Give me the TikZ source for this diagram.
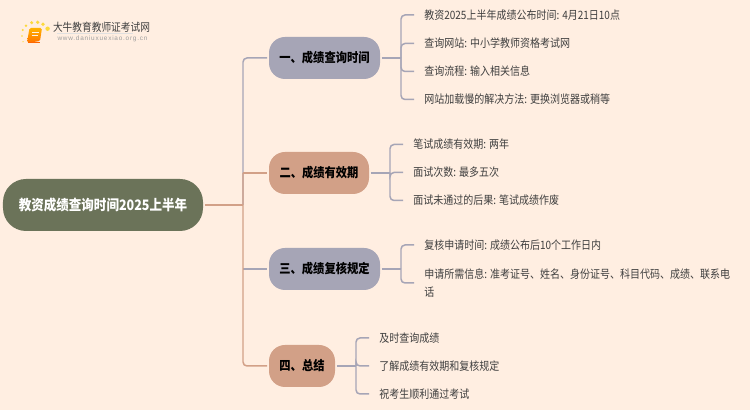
\documentclass[tikz,border=0pt]{standalone}
\usepackage{fontspec}
\setmainfont[FakeStretch=0.87]{Noto Sans CJK SC}
\newfontfamily\urlfont[LetterSpace=12]{Liberation Sans}
\definecolor{bgcol}{HTML}{FFEEE1}
\definecolor{rootcol}{HTML}{6B7359}
\definecolor{bluecol}{HTML}{A6A5B6}
\definecolor{salmoncol}{HTML}{D2A087}
\definecolor{leafcol}{HTML}{3F3F3F}

\tikzset{
  rootnode/.style={rectangle, fill=rootcol, rounded corners=0.46cm, minimum width=4cm, minimum height=1.04cm,
    inner sep=0pt, text=white, font=\fontsize{8.2pt}{9pt}\selectfont\bfseries},
  topic/.style={rectangle, rounded corners=0.32cm, minimum height=0.84cm, inner sep=0pt,
    text=black, font=\fontsize{7.37pt}{9pt}\selectfont\bfseries},
  bluetopic/.style={topic, fill=bluecol},
  salmontopic/.style={topic, fill=salmoncol},
  leaf/.style={rectangle, anchor=west, inner xsep=0.2cm, inner ysep=0pt, align=left, text=leafcol,
    font=\fontsize{6.54pt}{10.24pt}\selectfont},
  bluelink/.style={draw=bluecol, line width=0.85pt, rounded corners=0.08cm},
  salmonlink/.style={draw=salmoncol, line width=0.85pt, rounded corners=0.08cm}
}

\begin{document}
\begin{tikzpicture}
  \useasboundingbox[fill=bgcol] (0,0) rectangle (15,8.2);

  \node[rootnode] (root) at (2.06,4.1) {教资成绩查询时间2025上半年};

  \node[bluetopic, minimum width=2.22cm] (b1) at (6.49,7.04) {一、成绩查询时间};
  \node[salmontopic, minimum width=2cm] (b2) at (6.38,4.74) {二、成绩有效期};
  \node[bluetopic, minimum width=2.22cm] (b3) at (6.49,2.82) {三、成绩复核规定};
  \node[salmontopic, minimum width=1.32cm] (b4) at (6.04,0.88) {四、总结};

  \node[leaf] (l11) at (8.28,7.9) {教资2025上半年成绩公布时间: 4月21日10点};
  \node[leaf] (l12) at (8.28,7.33) {查询网站: 中小学教师资格考试网};
  \node[leaf] (l13) at (8.28,6.77) {查询流程: 输入相关信息};
  \node[leaf] (l14) at (8.28,6.21) {网站加载慢的解决方法: 更换浏览器或稍等};

  \node[leaf] (l21) at (8.06,5.31) {笔试成绩有效期: 两年};
  \node[leaf] (l22) at (8.06,4.75) {面试次数: 最多五次};
  \node[leaf] (l23) at (8.06,4.19) {面试未通过的后果: 笔试成绩作废};

  \node[leaf] (l31) at (8.28,3.3) {复核申请时间: 成绩公布后10个工作日内};
  \node[leaf] (l32) at (8.28,2.54) {申请所需信息: 准考证号、姓名、身份证号、科目代码、成绩、联系电\\话};

  \node[leaf] (l41) at (7.38,1.44) {及时查询成绩};
  \node[leaf] (l42) at (7.38,0.88) {了解成绩有效期和复核规定};
  \node[leaf] (l43) at (7.38,0.32) {祝考生顺利通过考试};

  % trunk
  \coordinate (trunk) at (4.86,4.1);
  \coordinate (j1) at (8.02,7.04);
  \coordinate (j2) at (7.8,4.74);
  \coordinate (j3) at (8.02,2.82);
  \coordinate (j4) at (7.12,0.88);

  \path[bluelink, shorten >=0.03cm] (trunk) |- (b1.west);
  \path[bluelink, shorten >=0.03cm] (trunk |- b3.west) -- (b3.west);
  \path[salmonlink, shorten >=0.03cm] (trunk |- b2.west) -- (b2.west);
  \path[salmonlink, shorten >=0.03cm] (trunk |- b2.west) -- (trunk) |- (b4.west);
  \path[salmonlink, shorten <=0.03cm] (root.east) -- (trunk);

  % leaves
  \foreach \j/\b/\list in {j1/b1/{l11,l12,l13,l14}, j2/b2/{l21,l22,l23}, j3/b3/{l31,l32}, j4/b4/{l41,l42,l43}} {
    \path[bluelink, shorten <=0.03cm] (\b.east) -- (\j);
    \foreach \l in \list
      \path[bluelink] (\j) |- (\l.west);
  }

  % logo
  \begin{scope}[x=0.02cm,y=-0.02cm,yshift=8.2cm]
    \foreach \px/\py/\rad in {47.6/28.7/2.2, 43/24.3/1.9, 37.7/22.3/1.8, 31.7/22.7/1.7, 26/25.7/1.4, 22.7/30/1.1, 22/36/0.9, 23/41.7/0.7}
      \fill[yellow!70!orange, opacity=0.75] (\px,\py) circle (\rad);
    \path[top color=orange!60!yellow, bottom color=orange!90!red, rounded corners=0.03cm]
      (29.5,28) -- (42,28) -- (40,41) -- (30,42.5) -- (27,42.5) -- cycle;
    \draw[white!90!orange, line width=0.4pt] (32,32) -- (38.5,32) (31.5,35) -- (38,35);
    \draw[orange!80!red, line width=0.4pt] (28,42.5) -- (39.5,42.5);
    \draw[black!12, line width=0.3pt] (57,33.5) -- (133,33.5);
  \end{scope}
  \node[rectangle, inner sep=0pt, text=leafcol, font=\fontsize{6.34pt}{7pt}\selectfont] (logoname) at (2.03,7.66) {大牛教育教师证考试网};
  \node[rectangle, inner sep=0pt, text=black!38, font=\fontsize{3.66pt}{5pt}\urlfont] (logourl) at (2.05,7.42) {www.daniuxuexiao.org.cn};
\end{tikzpicture}
\end{document}
